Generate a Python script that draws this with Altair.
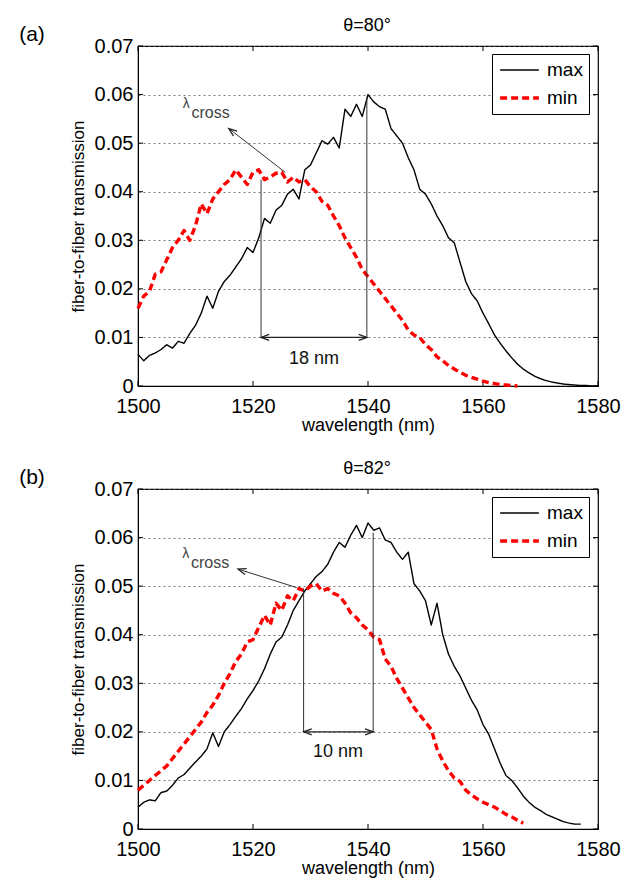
import math
import altair as alt
import pandas as pd

FONT = "Liberation Sans"

# ---------------- data: panel (a) theta = 80 deg ----------------
wl_max_a = list(range(1500, 1581))
max_a = [0.0065, 0.0052, 0.0063, 0.0068, 0.0075, 0.0085, 0.0078, 0.0092, 0.0088, 0.0108,
         0.0125, 0.0150, 0.0185, 0.0160, 0.0195, 0.0215, 0.0228, 0.0245, 0.0262, 0.0285,
         0.0275, 0.0305, 0.0345, 0.0335, 0.0362, 0.0372, 0.0395, 0.0405, 0.0385, 0.0445,
         0.0455, 0.0480, 0.0505, 0.0498, 0.0512, 0.0490, 0.0570, 0.0555, 0.0580, 0.0555,
         0.0600, 0.0585, 0.0575, 0.0570, 0.0530, 0.0515, 0.0500, 0.0470, 0.0445, 0.0405,
         0.0395, 0.0375, 0.0350, 0.0330, 0.0305, 0.0295, 0.0255, 0.0215, 0.0190, 0.0175,
         0.0150, 0.0128, 0.0105, 0.0088, 0.0072, 0.0058, 0.0045, 0.0035, 0.0027, 0.0020,
         0.0015, 0.0011, 0.0008, 0.0006, 0.0004, 0.0003, 0.0002, 0.0001, 0.0001, 0.0, 0.0]
wl_min_a = list(range(1500, 1567))
min_a = [0.0160, 0.0185, 0.0195, 0.0230, 0.0235, 0.0260, 0.0285, 0.0300, 0.0320, 0.0300,
         0.0330, 0.0375, 0.0355, 0.0385, 0.0400, 0.0415, 0.0425, 0.0445, 0.0430, 0.0415,
         0.0440, 0.0445, 0.0425, 0.0430, 0.0438, 0.0440, 0.0420, 0.0430, 0.0420, 0.0425,
         0.0410, 0.0400, 0.0380, 0.0372, 0.0350, 0.0330, 0.0305, 0.0285, 0.0265, 0.0240,
         0.0225, 0.0210, 0.0195, 0.0180, 0.0165, 0.0150, 0.0135, 0.0115, 0.0105, 0.0100,
         0.0085, 0.0075, 0.0060, 0.0052, 0.0042, 0.0035, 0.0028, 0.0022, 0.0018, 0.0014,
         0.0010, 0.0007, 0.0005, 0.0003, 0.0002, 0.0001, 0.0]

# ---------------- data: panel (b) theta = 82 deg ----------------
wl_max_b = list(range(1500, 1578))
max_b = [0.0045, 0.0055, 0.0060, 0.0058, 0.0075, 0.0078, 0.0090, 0.0105, 0.0112, 0.0125,
         0.0138, 0.0150, 0.0165, 0.0198, 0.0170, 0.0200, 0.0215, 0.0232, 0.0248, 0.0268,
         0.0285, 0.0305, 0.0330, 0.0360, 0.0385, 0.0395, 0.0420, 0.0450, 0.0470, 0.0490,
         0.0505, 0.0520, 0.0530, 0.0545, 0.0570, 0.0590, 0.0580, 0.0605, 0.0625, 0.0600,
         0.0630, 0.0615, 0.0620, 0.0595, 0.0590, 0.0570, 0.0555, 0.0570, 0.0505, 0.0490,
         0.0470, 0.0420, 0.0465, 0.0400, 0.0360, 0.0335, 0.0315, 0.0290, 0.0265, 0.0245,
         0.0215, 0.0195, 0.0165, 0.0135, 0.0110, 0.0100, 0.0085, 0.0068, 0.0055, 0.0045,
         0.0038, 0.0030, 0.0025, 0.0020, 0.0015, 0.0012, 0.0010, 0.0010]
wl_min_b = list(range(1500, 1568))
min_b = [0.0080, 0.0090, 0.0100, 0.0110, 0.0120, 0.0130, 0.0145, 0.0160, 0.0175, 0.0190,
         0.0205, 0.0220, 0.0240, 0.0255, 0.0275, 0.0300, 0.0320, 0.0345, 0.0360, 0.0385,
         0.0390, 0.0415, 0.0440, 0.0420, 0.0465, 0.0450, 0.0480, 0.0470, 0.0495, 0.0490,
         0.0500, 0.0505, 0.0490, 0.0495, 0.0485, 0.0480, 0.0465, 0.0445, 0.0435, 0.0420,
         0.0410, 0.0395, 0.0390, 0.0350, 0.0335, 0.0310, 0.0290, 0.0270, 0.0250, 0.0235,
         0.0220, 0.0205, 0.0165, 0.0140, 0.0120, 0.0105, 0.0098, 0.0080, 0.0070, 0.0062,
         0.0055, 0.0050, 0.0045, 0.0038, 0.0030, 0.0025, 0.0018, 0.0012]

# ---------------- annotations ----------------
titles = ["\u03b8=80\u00b0", "\u03b8=82\u00b0"]
panel_labels = ["(a)", "(b)"]
# vertical marker lines: x, y_bottom, y_top
vlines_a = [(1521.4, 0.010, 0.0425), (1539.8, 0.010, 0.0595)]
vlines_b = [(1528.8, 0.020, 0.0495), (1540.9, 0.020, 0.0610)]
span_text_a = ("18 nm", 1530.6, 0.0056)
span_text_b = ("10 nm", 1534.8, 0.0158)
cross_arrow_a = (1525.6, 0.0440, 1515.8, 0.0530)   # from crossing to arrow tip
cross_arrow_b = (1527.6, 0.0497, 1517.4, 0.0535)
lambda_pos_a = (1508.4, 0.0580, 1509.3, 0.0563)    # lambda x,y ; "cross" x,y
lambda_pos_b = (1508.3, 0.0566, 1509.2, 0.0548)

x_ticks = [1500, 1520, 1540, 1560, 1580]
y_ticks = [0, 0.01, 0.02, 0.03, 0.04, 0.05, 0.06, 0.07]
series_names = ["max", "min"]

W, H = 460, 340
XMIN, XMAX, YMIN, YMAX = 1500, 1580, 0.0, 0.07
PX_X = W / (XMAX - XMIN)
PX_Y = H / (YMAX - YMIN)

xscale = alt.Scale(domain=[XMIN, XMAX], nice=False, zero=False)
yscale = alt.Scale(domain=[YMIN, YMAX], nice=False)


def panel(title, plabel, wl_max, tmax, wl_min, tmin, vlines, span_text, cross_arrow, lam):
    df = pd.concat([
        pd.DataFrame({"wl": wl_max, "T": tmax, "series": "max"}),
        pd.DataFrame({"wl": wl_min, "T": tmin, "series": "min"}),
    ], ignore_index=True)

    leg = alt.Legend(orient="none", legendX=354, legendY=8, title=None,
                     strokeColor="black", fillColor="white", padding=6,
                     symbolType="stroke", symbolSize=1500, clipHeight=20,
                     labelFontSize=19, labelFont=FONT, labelColor="black",
                     rowPadding=8, labelOffset=6)

    xenc = alt.X("wl:Q", scale=xscale,
                 axis=alt.Axis(values=x_ticks, format="d", title="wavelength (nm)",
                               tickSize=0, labelPadding=10, titlePadding=0,
                               labelFlush=False, labelOverlap=False,
                               grid=False, domainColor="black",
                               labelFontSize=20, titleFontSize=18,
                               labelFont=FONT, titleFont=FONT,
                               labelColor="black", titleColor="black",
                               titleFontWeight="normal"))
    yenc = alt.Y("T:Q", scale=yscale,
                 axis=alt.Axis(values=y_ticks, title="fiber-to-fiber transmission",
                               labelExpr="datum.value == 0 ? '0' : format(datum.value, '.2f')",
                               tickSize=0, labelPadding=5, titlePadding=7,
                               labelFlush=False, labelOverlap=False,
                               grid=True, gridDash=[2, 3], gridColor="#555", gridWidth=0.8,
                               domainColor="black",
                               labelFontSize=20, titleFontSize=17,
                               labelFont=FONT, titleFont=FONT,
                               labelColor="black", titleColor="black",
                               titleFontWeight="normal"))

    lines = alt.Chart(df).mark_line(strokeJoin="round").encode(
        x=xenc, y=yenc,
        color=alt.Color("series:N", scale=alt.Scale(domain=series_names, range=["black", "#ff0000"]), legend=leg),
        strokeDash=alt.StrokeDash("series:N", scale=alt.Scale(domain=series_names, range=[[1, 0], [7, 4]]), legend=leg),
        strokeWidth=alt.StrokeWidth("series:N", scale=alt.Scale(domain=series_names, range=[1.4, 3.4]), legend=leg),
        order="wl:Q",
    )

    vdf = pd.DataFrame(vlines, columns=["x", "y1", "y2"])
    vrules = alt.Chart(vdf).mark_rule(color="#333", strokeWidth=1).encode(
        x=alt.X("x:Q", scale=xscale), y=alt.Y("y1:Q", scale=yscale), y2="y2:Q")

    hdf = pd.DataFrame({"x1": [vlines[0][0]], "x2": [vlines[1][0]], "y": [vlines[0][1]]})
    hrule = alt.Chart(hdf).mark_rule(color="#222", strokeWidth=1.2).encode(
        x=alt.X("x1:Q", scale=xscale), x2="x2:Q", y=alt.Y("y:Q", scale=yscale))

    cx0, cy0, cx1, cy1 = cross_arrow
    cdf = pd.DataFrame({"x1": [cx0], "y1": [cy0], "x2": [cx1], "y2": [cy1]})
    crule = alt.Chart(cdf).mark_rule(color="#333", strokeWidth=1).encode(
        x=alt.X("x1:Q", scale=xscale), y=alt.Y("y1:Q", scale=yscale), x2="x2:Q", y2="y2:Q")

    ang = math.degrees(math.atan2(-(cy1 - cy0) * PX_Y, (cx1 - cx0) * PX_X)) % 360
    heads = pd.DataFrame({
        "x": [vlines[0][0], vlines[1][0], cx1],
        "y": [vlines[0][1], vlines[0][1], cy1],
        "angle": [180.0, 0.0, ang],
    })
    arrowheads = alt.Chart(heads).mark_point(
        shape="M-2.7,-1L0,0L-2.7,1", filled=False, stroke="#222", strokeWidth=1.3,
        size=36, opacity=1).encode(
        x=alt.X("x:Q", scale=xscale), y=alt.Y("y:Q", scale=yscale),
        angle=alt.Angle("angle:Q", scale=None))

    sdf = pd.DataFrame({"t": [span_text[0]], "x": [span_text[1]], "y": [span_text[2]]})
    stext = alt.Chart(sdf).mark_text(font=FONT, fontSize=18, color="#111").encode(
        x=alt.X("x:Q", scale=xscale), y=alt.Y("y:Q", scale=yscale), text="t:N")

    lx, ly, sx, sy = lam
    ldf = pd.DataFrame({"t": ["\u03bb"], "x": [lx], "y": [ly]})
    ltext = alt.Chart(ldf).mark_text(font=FONT, fontSize=14, color="#444").encode(
        x=alt.X("x:Q", scale=xscale), y=alt.Y("y:Q", scale=yscale), text="t:N")
    cxdf = pd.DataFrame({"t": ["cross"], "x": [sx], "y": [sy]})
    cxtext = alt.Chart(cxdf).mark_text(font=FONT, fontSize=16, color="#444", align="left").encode(
        x=alt.X("x:Q", scale=xscale), y=alt.Y("y:Q", scale=yscale), text="t:N")

    # inward ticks on all four sides
    xt = pd.DataFrame({"v": x_ticks})
    yt = pd.DataFrame({"v": y_ticks})
    tb = alt.Chart(xt).mark_rule(color="black", strokeWidth=1).encode(
        x=alt.X("v:Q", scale=xscale), y=alt.value(H), y2=alt.value(H - 5))
    tt = alt.Chart(xt).mark_rule(color="black", strokeWidth=1).encode(
        x=alt.X("v:Q", scale=xscale), y=alt.value(0), y2=alt.value(5))
    tl = alt.Chart(yt).mark_rule(color="black", strokeWidth=1).encode(
        y=alt.Y("v:Q", scale=yscale), x=alt.value(0), x2=alt.value(5))
    tr = alt.Chart(yt).mark_rule(color="black", strokeWidth=1).encode(
        y=alt.Y("v:Q", scale=yscale), x=alt.value(W), x2=alt.value(W - 5))

    pl = alt.Chart(pd.DataFrame({"t": [plabel]})).mark_text(
        font=FONT, fontSize=21, color="black").encode(
        text="t:N", x=alt.value(-106), y=alt.value(-11))
    tl_text = alt.Chart(pd.DataFrame({"t": [title]})).mark_text(
        font=FONT, fontSize=18, color="black").encode(
        text="t:N", x=alt.value(W / 2 - 1), y=alt.value(-20))

    return alt.layer(
        tb, tt, tl, tr, lines, vrules, hrule, crule, arrowheads, stext, ltext, cxtext, pl, tl_text
    ).properties(width=W, height=H)


top = panel(titles[0], panel_labels[0], wl_max_a, max_a, wl_min_a, min_a,
            vlines_a, span_text_a, cross_arrow_a, lambda_pos_a)
bottom = panel(titles[1], panel_labels[1], wl_max_b, max_b, wl_min_b, min_b,
               vlines_b, span_text_b, cross_arrow_b, lambda_pos_b)

chart = alt.vconcat(top, bottom, spacing=24).resolve_scale(
    color="independent", strokeDash="independent", strokeWidth="independent"
).resolve_legend(
    color="independent", strokeDash="independent", strokeWidth="independent"
).properties(
    padding={"left": 18, "top": 16, "right": 5, "bottom": 0},
    background="white",
).configure_view(stroke="black", strokeWidth=1.2)

chart.save("out.html", embed_options={"renderer": "svg", "actions": False})
